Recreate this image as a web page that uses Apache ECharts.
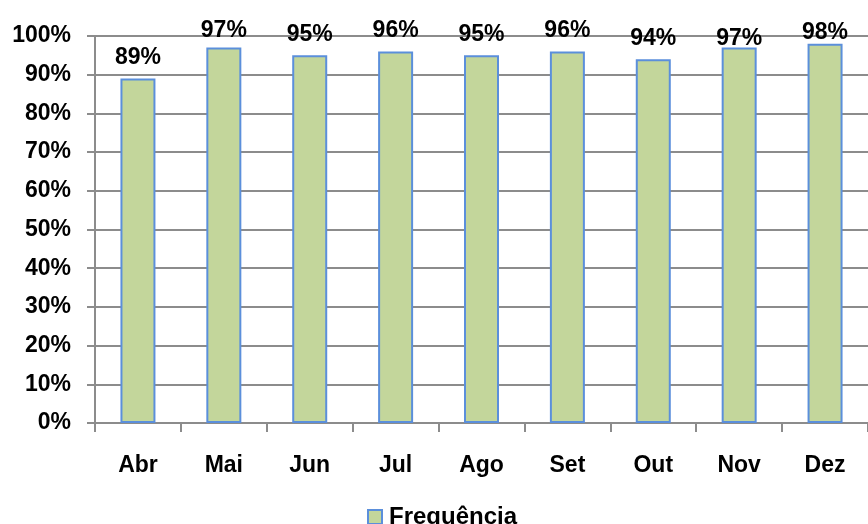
<!DOCTYPE html>
<html>
<head>
<meta charset="utf-8">
<script src="https://cdn.jsdelivr.net/npm/echarts@6/dist/echarts.min.js"></script>
<style>
  html, body { margin: 0; padding: 0; background: #fff; }
  #chart { width: 868px; height: 524px; }
</style>
</head>
<body>
<div id="chart"></div>
<script>
// Monthly attendance rate (percent)
const months = ['Abr', 'Mai', 'Jun', 'Jul', 'Ago', 'Set', 'Out', 'Nov', 'Dez'];
const frequencia = [89, 97, 95, 96, 95, 96, 94, 97, 98];
const seriesName = 'Frequência';

// Labels near the top edge are pushed down a little so they stay inside the frame
const labelNudge = { Mai: 4, Nov: 12, Dez: 9 };

const chart = echarts.init(document.getElementById('chart'));
const textFont = { fontFamily: 'Liberation Sans, Arial, sans-serif', fontWeight: 'bold', color: '#000' };

const barData = frequencia.map((v, i) => ({
  value: v,
  label: { offset: [0, labelNudge[months[i]] || 0] }
}));

chart.setOption({
  animation: false,
  grid: { left: 95, top: 36, width: 782, height: 387, containLabel: false },
  legend: {
    top: 500,
    left: 362,
    itemWidth: 14,
    itemHeight: 14,
    itemGap: 7,
    icon: 'rect',
    textStyle: Object.assign({ fontSize: 24, padding: [0, 0, 0, 2] }, textFont),
    data: [seriesName]
  },
  xAxis: {
    type: 'category',
    data: months,
    axisLine: { show: true, lineStyle: { color: '#8c8c8c', width: 2 } },
    axisTick: { show: true, alignWithLabel: false, length: 9, inside: false, lineStyle: { color: '#8c8c8c', width: 2 } },
    axisLabel: Object.assign({ fontSize: 23, margin: 31 }, textFont)
  },
  yAxis: {
    type: 'value',
    min: 0,
    max: 100,
    interval: 10,
    axisLine: { show: true, lineStyle: { color: '#8c8c8c', width: 2 } },
    axisTick: { show: true, length: 8, lineStyle: { color: '#8c8c8c', width: 2 } },
    splitLine: { show: true, lineStyle: { color: '#8c8c8c', width: 2 } },
    axisLabel: Object.assign({ fontSize: 23, margin: 24, formatter: '{value}%' }, textFont)
  },
  series: [{
    name: seriesName,
    type: 'bar',
    data: barData,
    barWidth: 35,
    itemStyle: { color: '#C3D69B', borderColor: '#5B8FDB', borderWidth: 2 },
    label: Object.assign({
      show: true,
      position: 'top',
      distance: 9,
      fontSize: 23,
      formatter: '{c}%'
    }, textFont)
  }]
});
</script>
</body>
</html>
